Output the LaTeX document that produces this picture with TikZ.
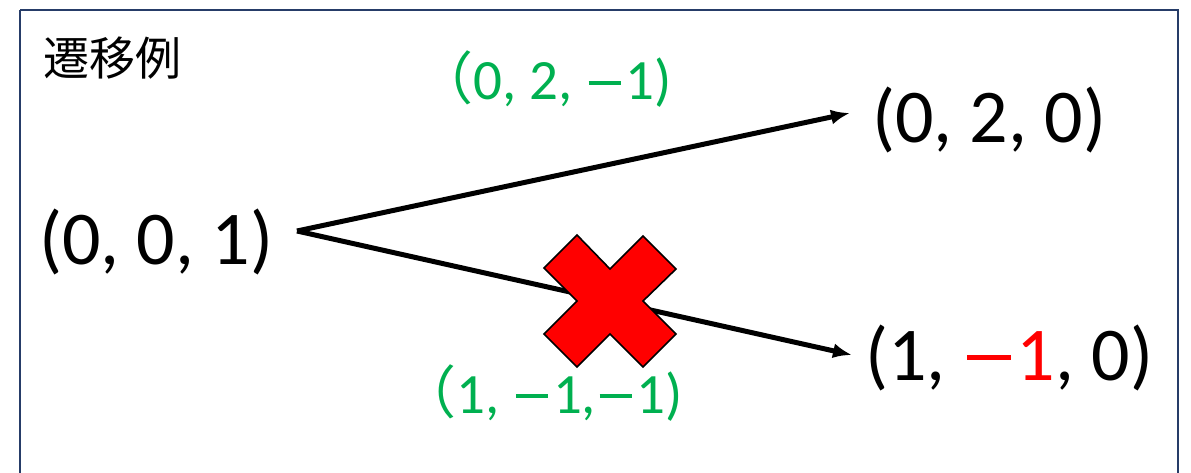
\documentclass[tikz,border=0pt]{standalone}
\usepackage{fontspec}
\setmainfont{Carlito}
\newfontfamily\cjk{Noto Sans CJK JP}
\usetikzlibrary{arrows.meta}
\definecolor{framecol}{RGB}{38,60,104}
\definecolor{grn}{RGB}{0,176,80}
\definecolor{redx}{RGB}{255,0,0}
\newcommand{\mymin}{\kern0.06em\rule[0.265em]{0.57em}{0.07em}\kern0.08em}
\tikzset{
  big/.style={inner sep=0pt, font=\fontsize{76}{80}\selectfont},
  lbl/.style={inner sep=0pt, text=grn, font=\fontsize{57}{60}\selectfont},
  trans/.style={line width=5pt, -{Latex[length=19pt,width=15pt]}},
  framebox/.style={draw=framecol, line width=2.8pt},
  xmark/.style={fill=redx, draw=black, line width=1.6pt, line join=miter}
}
\begin{document}
\begin{tikzpicture}[x=1pt,y=1pt]
\useasboundingbox (0,0) rectangle (1191,-473);
\draw[framebox] (20,-10) -- (1178,-10) -- (1178,-490) (20,-10) -- (20,-490);
\node[inner sep=0pt, anchor=west, font=\cjk\fontsize{46}{50}\selectfont] (title) at (43,-58) {遷移例};
\node[big, anchor=base west] (s001) at (39,-264) {(0, 0, 1)};
\node[big, anchor=base west] (s020) at (872,-143) {(0, 2, 0)};
\node[big, anchor=base west] (s1m0) at (865,-380) {(1, \textcolor{redx}{\mymin 1}, 0)};
\node[lbl, anchor=base east] (a1) at (672,-100) {{\cjk （}0, 2, \mymin 1)};
\node[lbl, anchor=base east] (a2) at (683,-413) {{\cjk （}1, \mymin 1,\mymin 1)};
\coordinate (st) at (297,-231);
\coordinate (e1) at (850,-113);
\coordinate (e2) at (852,-355);
\draw[trans] (st) -- (e1);
\draw[trans] (st) -- (e2);
\node[inner sep=0pt] (cross) at (610,-300) {};
\draw[xmark] (cross.center)
  ++(0,31) -- ++(33,33) -- ++(33,-33) -- ++(-33,-32) -- ++(33,-33) -- ++(-33,-33)
  -- ++(-33,33) -- ++(-33,-33) -- ++(-33,33) -- ++(33,33) -- ++(-33,33) -- ++(33,33) -- cycle;
\end{tikzpicture}
\end{document}
